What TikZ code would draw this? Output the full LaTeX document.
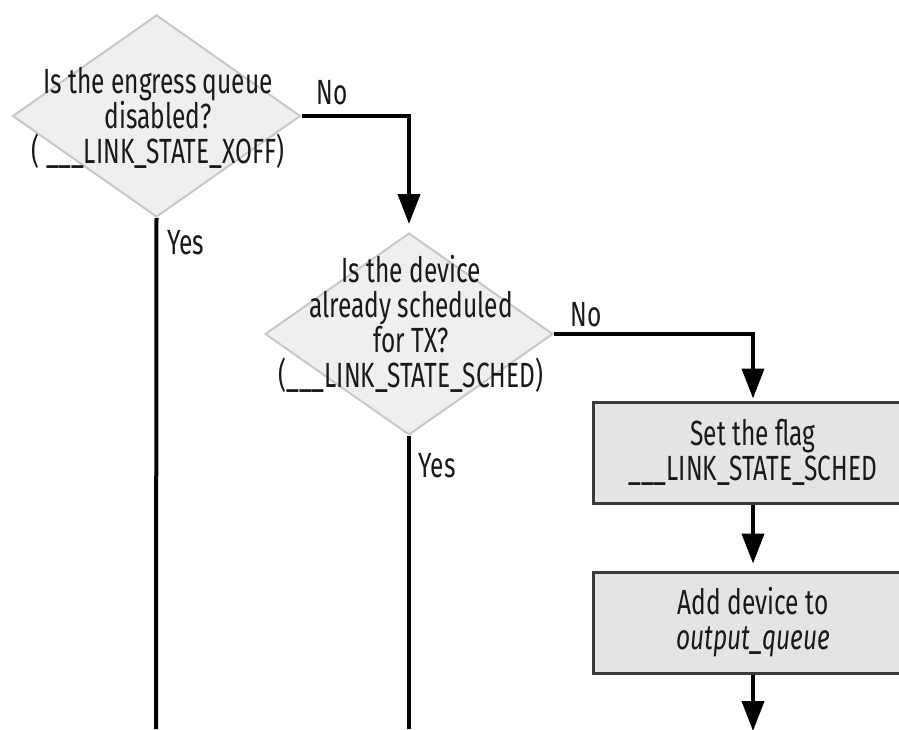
\documentclass[tikz,border=0pt]{standalone}
\usepackage{fontspec}
\setmainfont{Fira Sans}[FakeStretch=0.70]
\usetikzlibrary{shapes.geometric,arrows.meta,calc}
\definecolor{dfill}{HTML}{EFEFEF}
\definecolor{ddraw}{HTML}{C8C8C8}
\definecolor{bfill}{HTML}{E4E4E4}
\definecolor{bdraw}{HTML}{3A3A3A}
\tikzset{
  txt/.style={font=\fontsize{35}{35}\selectfont, align=center, inner sep=0pt, text=black!90},
  lbl/.style={font=\fontsize{35}{35}\selectfont, inner sep=0pt, text=black!90},
  decision/.style={diamond, draw=ddraw, fill=dfill, line width=2pt, minimum width=288pt, minimum height=202pt, inner sep=0pt},
  procbox/.style={rectangle, draw=bdraw, fill=bfill, line width=3pt, minimum width=320pt, minimum height=101pt, inner sep=0pt, font=\fontsize{35}{35}\selectfont, align=center, text=black!90},
  conn/.style={line width=4pt, draw=black},
  arr/.style={conn, -{Triangle[length=30pt,width=22pt]}}
}
\begin{document}
\begin{tikzpicture}[x=1pt,y=-1pt]
\clip (0,0) rectangle (899,729);
\fill[white] (0,0) rectangle (899,729);
% decisions
\node[decision] (d1) at (156.5,116) {};
\node[txt] (t1) at (158,118) {Is the engress queue\\disabled?\\( \_\_\_LINK\_STATE\_XOFF)};
\node[decision] (d2) at (409,334) {};
\node[txt] (t2) at (411,324) {Is the device\\already scheduled\\for TX?\\(\_\_\_LINK\_STATE\_SCHED)};
% process boxes
\node[procbox] (b1) at (753,452.5) {Set the flag\\\_\_\_LINK\_STATE\_SCHED};
\node[procbox] (b2) at (753,622.5) {Add device to\\\textit{output\_queue}};
% free ends
\coordinate (bot1) at (156,729);
\coordinate (bot2) at (409,729);
\coordinate (bot3) at (753,731);
% connectors
\draw[arr, shorten >=8pt] (d1.east) -| (d2.north);
\draw[arr, shorten >=2pt] (d2.east) -| (b1.north);
\draw[arr, shorten >=7pt] (b1.south) -- (b2.north);
\draw[arr] (b2.south) -- (bot3);
\draw[conn] (d1.south) -- (bot1);
\draw[conn] (d2.south) -- (bot2);
% labels
\node[lbl] (no1) at (332,93) {No};
\node[lbl] (yes1) at (186,243) {Yes};
\node[lbl] (no2) at (586,315) {No};
\node[lbl] (yes2) at (437,466) {Yes};
\end{tikzpicture}
\end{document}
